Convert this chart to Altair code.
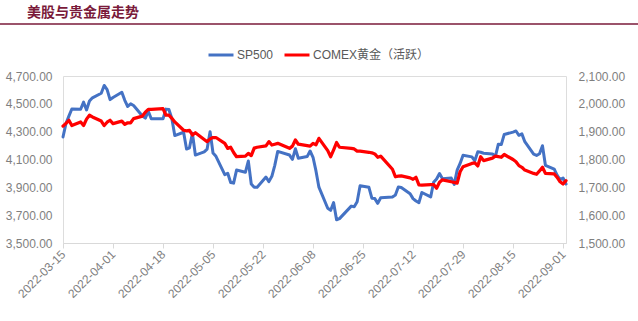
import altair as alt
import pandas as pd

title_text = "美股与贵金属走势"
series_names = ["SP500", "COMEX黄金（活跃）"]
series_colors = ["#4472C4", "#FF0000"]

dates = [
    "2022-03-15", "2022-03-16", "2022-03-17", "2022-03-18", "2022-03-21", "2022-03-22", "2022-03-23",
    "2022-03-24", "2022-03-25", "2022-03-28", "2022-03-29", "2022-03-30", "2022-03-31", "2022-04-01",
    "2022-04-04", "2022-04-05", "2022-04-06", "2022-04-07", "2022-04-08", "2022-04-11", "2022-04-12",
    "2022-04-13", "2022-04-14", "2022-04-18", "2022-04-19", "2022-04-20", "2022-04-21", "2022-04-22",
    "2022-04-25", "2022-04-26", "2022-04-27", "2022-04-28", "2022-04-29", "2022-05-02", "2022-05-03",
    "2022-05-04", "2022-05-05", "2022-05-06", "2022-05-09", "2022-05-10", "2022-05-11", "2022-05-12",
    "2022-05-13", "2022-05-16", "2022-05-17", "2022-05-18", "2022-05-19", "2022-05-20", "2022-05-23",
    "2022-05-24", "2022-05-25", "2022-05-26", "2022-05-27", "2022-05-31", "2022-06-01", "2022-06-02",
    "2022-06-03", "2022-06-06", "2022-06-07", "2022-06-08", "2022-06-09", "2022-06-10", "2022-06-13",
    "2022-06-14", "2022-06-15", "2022-06-16", "2022-06-17", "2022-06-21", "2022-06-22", "2022-06-23",
    "2022-06-24", "2022-06-27", "2022-06-28", "2022-06-29", "2022-06-30", "2022-07-01", "2022-07-05",
    "2022-07-06", "2022-07-07", "2022-07-08", "2022-07-11", "2022-07-12", "2022-07-13", "2022-07-14",
    "2022-07-15", "2022-07-18", "2022-07-19", "2022-07-20", "2022-07-21", "2022-07-22", "2022-07-25",
    "2022-07-26", "2022-07-27", "2022-07-28", "2022-07-29", "2022-08-01", "2022-08-02", "2022-08-03",
    "2022-08-04", "2022-08-05", "2022-08-08", "2022-08-09", "2022-08-10", "2022-08-11", "2022-08-12",
    "2022-08-15", "2022-08-16", "2022-08-17", "2022-08-18", "2022-08-19", "2022-08-22", "2022-08-23",
    "2022-08-24", "2022-08-25", "2022-08-26", "2022-08-29", "2022-08-30", "2022-08-31", "2022-09-01",
    "2022-09-02",
]

sp500 = [
    4262, 4358, 4412, 4463, 4461, 4512, 4456, 4520, 4543, 4576, 4632, 4602, 4530, 4546,
    4583, 4525, 4481, 4500, 4488, 4413, 4397, 4447, 4393, 4392, 4462, 4459, 4394, 4272,
    4296, 4175, 4184, 4288, 4132, 4155, 4175, 4300, 4147, 4123, 3991, 4001, 3935, 3930,
    4024, 4008, 4089, 3924, 3901, 3901, 3974, 3941, 3979, 4058, 4158, 4132, 4101, 4177,
    4109, 4121, 4161, 4116, 4018, 3901, 3750, 3735, 3790, 3667, 3675, 3765, 3760, 3796,
    3912, 3900, 3822, 3819, 3785, 3825, 3831, 3845, 3903, 3899, 3854, 3819, 3802, 3790,
    3863, 3831, 3937, 3960, 3999, 3962, 3967, 3921, 4024, 4072, 4130, 4119, 4091, 4155,
    4152, 4145, 4140, 4122, 4210, 4207, 4280, 4297, 4305, 4274, 4284, 4228, 4138, 4129,
    4141, 4199, 4058, 4031, 3986, 3955, 3967, 3924,
]

gold = [
    1920, 1930, 1941, 1922, 1935, 1922, 1945, 1959, 1953, 1938, 1922, 1934, 1941, 1929,
    1938, 1926, 1932, 1932, 1947, 1956, 1970, 1980, 1980, 1983, 1959, 1959, 1948, 1935,
    1905, 1903, 1905, 1888, 1896, 1872, 1864, 1874, 1879, 1879, 1858, 1840, 1844, 1825,
    1810, 1812, 1822, 1814, 1841, 1844, 1849, 1864, 1852, 1855, 1858, 1840, 1848, 1870,
    1855, 1850, 1848, 1858, 1853, 1876, 1832, 1810, 1835, 1861, 1844, 1840, 1838, 1830,
    1830, 1826, 1824, 1820, 1808, 1812, 1765, 1738, 1740, 1741, 1734, 1729, 1736, 1709,
    1708, 1710, 1710, 1697, 1718, 1727, 1720, 1718, 1715, 1756, 1774, 1786, 1788, 1777,
    1810, 1796, 1805, 1812, 1810, 1808, 1818, 1800, 1792, 1778, 1772, 1762, 1750, 1747,
    1759, 1772, 1750, 1748, 1736, 1720, 1712, 1724,
]

tick_dates = [
    "2022-03-15", "2022-04-01", "2022-04-18", "2022-05-05", "2022-05-22", "2022-06-08",
    "2022-06-25", "2022-07-12", "2022-07-29", "2022-08-15", "2022-09-01",
]
left_ticks = [3500, 3700, 3900, 4100, 4300, 4500, 4700]
right_ticks = [1500, 1600, 1700, 1800, 1900, 2000, 2100]

df = pd.DataFrame({
    "date": dates * 2,
    "series": [series_names[0]] * len(dates) + [series_names[1]] * len(dates),
    "value": sp500 + gold,
})


def dt(s):
    y, m, d = s.split("-")
    return alt.DateTime(year=int(y), month=int(m), date=int(d), utc=True)


label_font = "Liberation Sans, Noto Sans CJK SC"
label_color = "#7F7F7F"

x_enc = alt.X(
    "date:T",
    scale=alt.Scale(type="utc", domain=[dt(dates[0]), dt(dates[-1])], nice=False),
    axis=alt.Axis(
        values=[dt(s) for s in tick_dates],
        format="%Y-%m-%d",
        labelAngle=-45,
        labelAlign="right",
        labelBaseline="middle",
        labelPadding=4,
        labelFontSize=12,
        labelFont=label_font,
        labelColor=label_color,
        domainColor="#D9D9D9",
        tickColor="#D9D9D9",
        tickSize=5,
        grid=False,
        title=None,
        labelOverlap=False,
    ),
)

color_enc = alt.Color(
    "series:N",
    scale=alt.Scale(domain=series_names, range=series_colors),
    legend=alt.Legend(
        title=None,
        orient="none",
        direction="horizontal",
        legendX=144,
        legendY=-35,
        symbolType="stroke",
        symbolSize=625,
        symbolStrokeWidth=3,
        labelFontSize=12,
        labelFont=label_font,
        labelColor="#595959",
        labelOffset=2,
        columnPadding=4,
    ),
)

base = alt.Chart(df)

sp_line = base.transform_filter(alt.datum.series == series_names[0]).mark_line(
    strokeWidth=3, strokeJoin="round", strokeCap="round"
).encode(
    x=x_enc,
    y=alt.Y(
        "value:Q",
        scale=alt.Scale(domain=[3500, 4700], nice=False, zero=False),
        axis=alt.Axis(
            orient="left", values=left_ticks, format=",.2f", grid=False, domain=False,
            ticks=False, labelPadding=11, labelFontSize=12, labelFont=label_font,
            labelColor=label_color, title=None,
        ),
    ),
    color=color_enc,
)

gold_line = base.transform_filter(alt.datum.series == series_names[1]).mark_line(
    strokeWidth=3.25, strokeJoin="round", strokeCap="round"
).encode(
    x=x_enc,
    y=alt.Y(
        "value:Q",
        scale=alt.Scale(domain=[1500, 2100], nice=False, zero=False),
        axis=alt.Axis(
            orient="right", values=right_ticks, format=",.2f", grid=False, domain=False,
            ticks=False, labelPadding=12, labelFontSize=12, labelFont=label_font,
            labelColor=label_color, title=None,
        ),
    ),
    color=color_enc,
)

title_mark = alt.Chart(alt.Data(values=[{"t": title_text}])).mark_text(
    align="left", baseline="middle", font="Noto Sans CJK SC", fontSize=14,
    fontWeight="bold", color="#7A1A3A",
).encode(x=alt.value(-36), y=alt.value(-63), text="t:N")

title_rule = alt.Chart(alt.Data(values=[{"t": title_text}])).mark_rule(
    color="#7A1A3A", strokeWidth=1.5
).encode(x=alt.value(-63), x2=alt.value(575), y=alt.value(-52))

chart = alt.layer(sp_line, gold_line, title_mark, title_rule).resolve_scale(
    y="independent"
).properties(
    width=503,
    height=167,
    autosize=alt.AutoSizeParams(type="none"),
    padding={"left": 63, "top": 76, "right": 72, "bottom": 78},
).configure_view(stroke=None).configure(background="white")

chart.save("out.html", embed_options={"renderer": "svg", "actions": False})
